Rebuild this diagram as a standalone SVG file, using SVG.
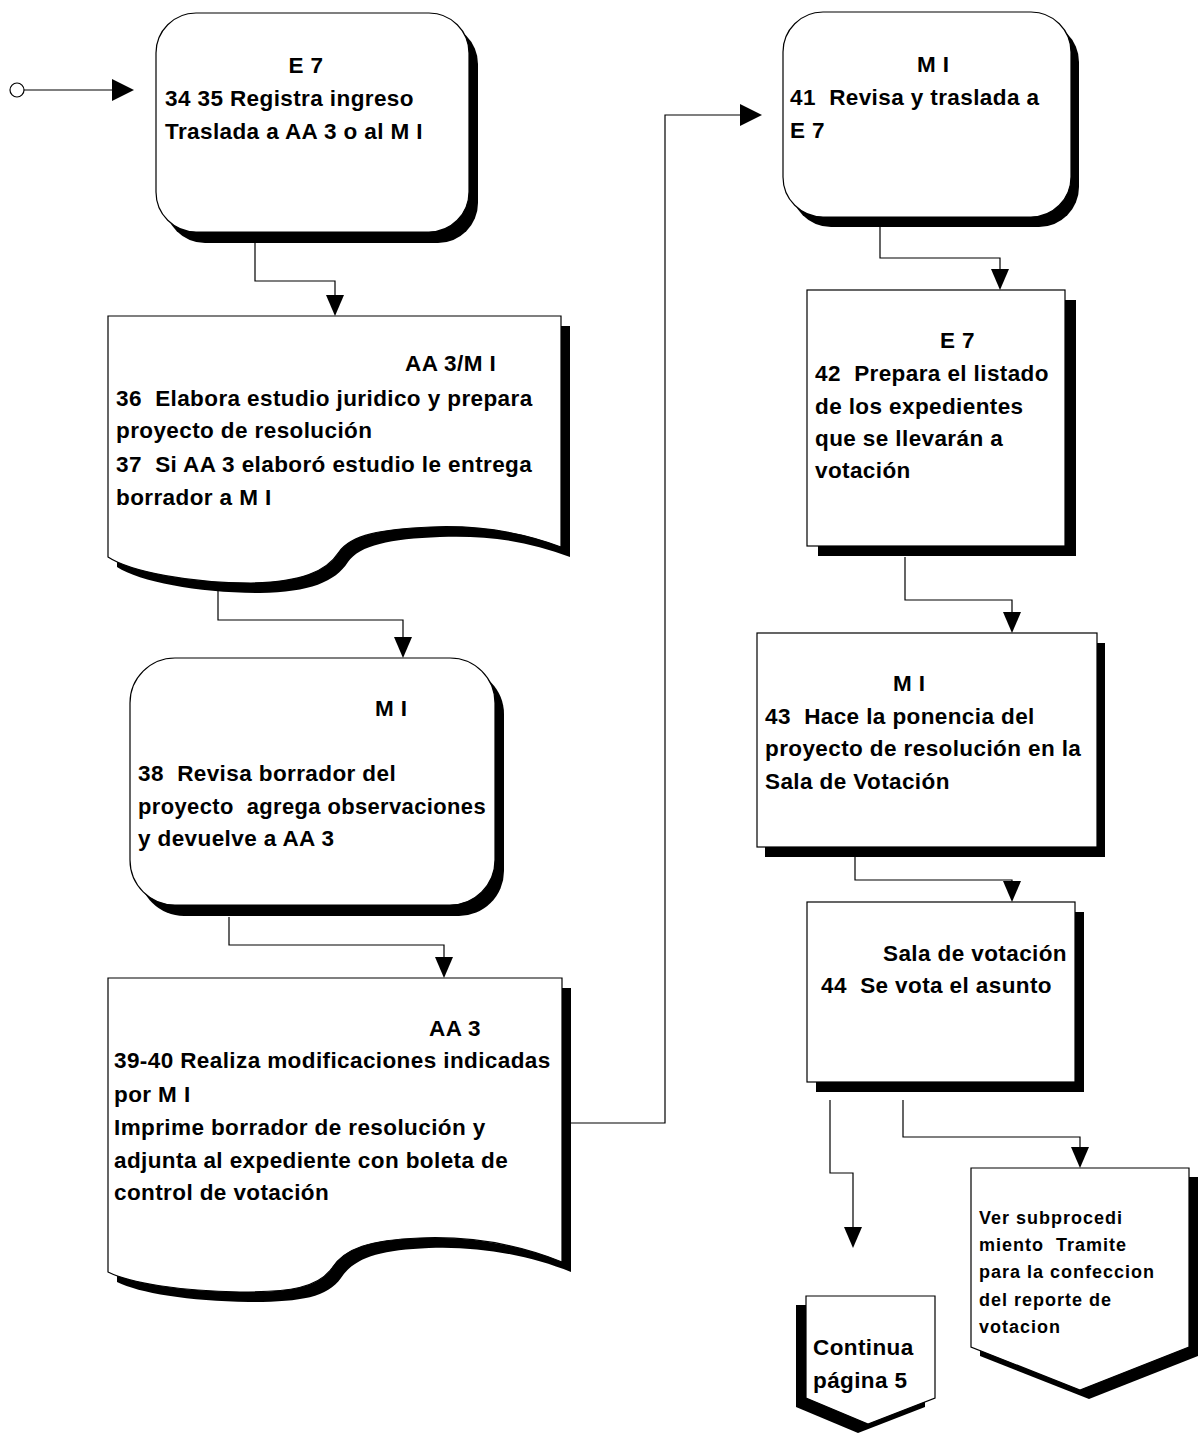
<svg xmlns="http://www.w3.org/2000/svg" width="1199" height="1435" viewBox="0 0 1199 1435">
<style>
.shape{fill:#fff;stroke:#000;stroke-width:1.2}
.shadow{fill:#000;stroke:none}
.t{font-family:"Liberation Sans",Arial,sans-serif;font-weight:bold;font-size:22.5px;letter-spacing:0.4px;fill:#000;white-space:pre}
.ts{font-family:"Liberation Sans",Arial,sans-serif;font-weight:bold;font-size:18px;letter-spacing:1px;fill:#000;white-space:pre}
.c{fill:none;stroke:#000;stroke-width:1.2}
.ah{fill:#000}
</style>
<rect width="1199" height="1435" fill="#fff"/>
<g id="connectors">
  <circle cx="17" cy="90" r="7" fill="#fff" stroke="#000" stroke-width="1.2"/>
  <line class="c" x1="24" y1="90" x2="113" y2="90"/>
  <polygon class="ah" points="112,79 134,90 112,101"/>
  <polyline class="c" points="255,243 255,281 335,281 335,296"/>
  <polygon class="ah" points="326,295 344,295 335,316"/>
  <polyline class="c" points="218,585 218,620 403,620 403,638"/>
  <polygon class="ah" points="394,637 412,637 403,658"/>
  <polyline class="c" points="229,917 229,945 444,945 444,958"/>
  <polygon class="ah" points="435,957 453,957 444,978"/>
  <polyline class="c" points="571,1123 665,1123 665,115 741,115"/>
  <polygon class="ah" points="740,104 762,115 740,126"/>
  <polyline class="c" points="880,227 880,258 1000,258 1000,270"/>
  <polygon class="ah" points="991,269 1009,269 1000,290"/>
  <polyline class="c" points="905,557 905,600 1012,600 1012,613"/>
  <polygon class="ah" points="1003,612 1021,612 1012,633"/>
  <polyline class="c" points="855,857 855,880 1012,880 1012,882"/>
  <polygon class="ah" points="1003,881 1021,881 1012,902"/>
  <polyline class="c" points="830,1100 830,1173 853,1173 853,1228"/>
  <polygon class="ah" points="844,1227 862,1227 853,1248"/>
  <polyline class="c" points="903,1100 903,1137 1080,1137 1080,1148"/>
  <polygon class="ah" points="1071,1147 1089,1147 1080,1168"/>
</g>
<g id="n1">
  <rect class="shadow" x="165" y="24" width="313" height="219" rx="40"/>
  <rect class="shape" x="156" y="13" width="313" height="219" rx="40"/>
  <text class="t" x="306" y="73" text-anchor="middle">E 7</text>
  <text class="t" x="165" y="106">34 35 Registra ingreso</text>
  <text class="t" x="165" y="139">Traslada a AA 3 o al M I</text>
</g>
<g id="n2">
  <path class="shadow" d="M117,326 H570 V557 C530,542 490,535 440,537 C390,539 360,545 348,562 C335,582 310,592 260,593 C200,593 140,582 117,567 Z"/>
  <path class="shape" d="M108,316 H561 V547 C521,532 481,525 431,527 C381,529 351,535 339,552 C326,572 301,582 251,583 C191,583 131,572 108,557 Z"/>
  <text class="t" x="405" y="371">AA 3/M I</text>
  <text class="t" x="116" y="406">36  Elabora estudio juridico y prepara</text>
  <text class="t" x="116" y="438">proyecto de resolución</text>
  <text class="t" x="116" y="472">37  Si AA 3 elaboró estudio le entrega</text>
  <text class="t" x="116" y="505">borrador a M I</text>
</g>
<g id="n3">
  <rect class="shadow" x="139" y="669" width="365" height="247" rx="45"/>
  <rect class="shape" x="130" y="658" width="365" height="247" rx="45"/>
  <text class="t" x="375" y="716">M I</text>
  <text class="t" x="138" y="781">38  Revisa borrador del</text>
  <text class="t" x="138" y="814" textLength="348" lengthAdjust="spacingAndGlyphs">proyecto  agrega observaciones</text>
  <text class="t" x="138" y="846">y devuelve a AA 3</text>
</g>
<g id="n4">
  <path class="shadow" d="M117,988 H571 V1272 C529,1255 479,1246 429,1248 C379,1250 354,1258 341,1278 C327,1298 299,1302 249,1302 C189,1301 139,1293 117,1282 Z"/>
  <path class="shape" d="M108,978 H562 V1262 C520,1245 470,1236 420,1238 C370,1240 345,1248 332,1268 C318,1288 290,1292 240,1292 C180,1291 130,1283 108,1272 Z"/>
  <text class="t" x="429" y="1036">AA 3</text>
  <text class="t" x="114" y="1068">39-40 Realiza modificaciones indicadas</text>
  <text class="t" x="114" y="1102">por M I</text>
  <text class="t" x="114" y="1135">Imprime borrador de resolución y</text>
  <text class="t" x="114" y="1168">adjunta al expediente con boleta de</text>
  <text class="t" x="114" y="1200">control de votación</text>
</g>
<g id="n5">
  <rect class="shadow" x="791" y="22" width="288" height="205" rx="40"/>
  <rect class="shape" x="783" y="12" width="288" height="205" rx="40"/>
  <text class="t" x="917" y="72">M I</text>
  <text class="t" x="790" y="105">41  Revisa y traslada a</text>
  <text class="t" x="790" y="138">E 7</text>
</g>
<g id="n6">
  <rect class="shadow" x="818" y="300" width="258" height="256"/>
  <rect class="shape" x="807" y="290" width="258" height="256"/>
  <text class="t" x="940" y="348">E 7</text>
  <text class="t" x="815" y="381">42  Prepara el listado</text>
  <text class="t" x="815" y="414">de los expedientes</text>
  <text class="t" x="815" y="446">que se llevarán a</text>
  <text class="t" x="815" y="478">votación</text>
</g>
<g id="n7">
  <rect class="shadow" x="765" y="643" width="340" height="214"/>
  <rect class="shape" x="757" y="633" width="340" height="214"/>
  <text class="t" x="893" y="691">M I</text>
  <text class="t" x="765" y="724">43  Hace la ponencia del</text>
  <text class="t" x="765" y="756">proyecto de resolución en la</text>
  <text class="t" x="765" y="789">Sala de Votación</text>
</g>
<g id="n8">
  <rect class="shadow" x="816" y="912" width="268" height="180"/>
  <rect class="shape" x="807" y="902" width="268" height="180"/>
  <text class="t" x="1067" y="961" text-anchor="end">Sala de votación</text>
  <text class="t" x="821" y="993">44  Se vota el asunto</text>
</g>
<g id="n9">
  <polygon class="shadow" points="796,1305 925,1305 925,1407 858,1433 796,1407"/>
  <polygon class="shape" points="806,1296 935,1296 935,1398 868,1424 806,1398"/>
  <text class="t" x="813" y="1355">Continua</text>
  <text class="t" x="813" y="1388">página 5</text>
</g>
<g id="n10">
  <polygon class="shadow" points="980,1177 1198,1177 1198,1356 1089,1399 980,1356"/>
  <polygon class="shape" points="971,1168 1189,1168 1189,1347 1080,1390 971,1347"/>
  <text class="ts" x="979" y="1224">Ver subprocedi</text>
  <text class="ts" x="979" y="1251">miento  Tramite</text>
  <text class="ts" x="979" y="1278">para la confeccion</text>
  <text class="ts" x="979" y="1306">del reporte de</text>
  <text class="ts" x="979" y="1333">votacion</text>
</g>
</svg>
